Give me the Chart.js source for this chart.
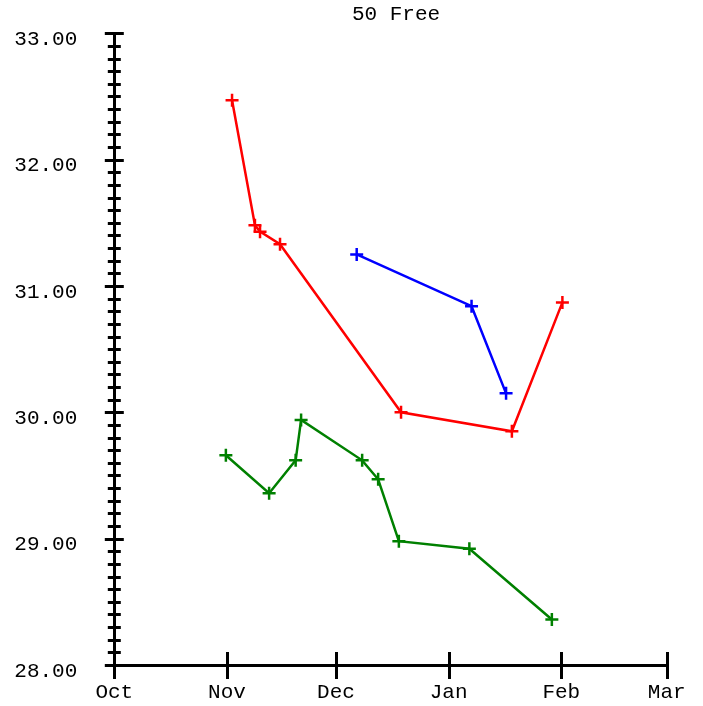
<!DOCTYPE html>
<html>
<head>
<meta charset="utf-8">
<script src="https://cdn.jsdelivr.net/npm/chart.js@4/dist/chart.umd.min.js"></script>
<style>
  html, body { margin: 0; padding: 0; background: #fff; }
  #wrap { width: 703px; height: 706px; position: relative; }
</style>
</head>
<body>
<div id="wrap"><canvas id="c"></canvas></div>
<script>
// Season days counted from Oct 1 (Feb with 29 days)
const monthLabels = ['Oct', 'Nov', 'Dec', 'Jan', 'Feb', 'Mar'];
const monthStartDays = [0, 31, 61, 92, 123, 152];

const yMin = 28, yMax = 33, yMinorStep = 0.1;

const redDays  = [32.4, 38.7, 40.1, 45.6, 78.9, 109.4, 123.3];
const redTimes = [32.47, 31.48, 31.43, 31.33, 30.00, 29.85, 30.87];

const blueDays  = [66.7, 98.3, 107.8];
const blueTimes = [31.25, 30.84, 30.15];

const greenDays  = [30.7, 42.6, 49.9, 51.4, 68.2, 72.6, 78.3, 97.7, 120.4];
const greenTimes = [29.66, 29.36, 29.62, 29.94, 29.62, 29.47, 28.98, 28.92, 28.36];

const pts = (xs, ys) => xs.map((x, i) => ({ x: x, y: ys[i] }));

const FONT = '"Liberation Mono", "DejaVu Sans Mono", monospace';

const tickMarks = {
  id: 'tickMarks',
  afterLayout(chart) {
    // the reference title sits slightly right of the plot centre
    if (chart.titleBlock) { chart.titleBlock.left += 5.5; chart.titleBlock.right += 5.5; }
  },
  afterDraw(chart) {
    const ctx = chart.ctx, xs = chart.scales.x, ys = chart.scales.y, ca = chart.chartArea;
    ctx.save();
    ctx.strokeStyle = '#000';
    ctx.lineWidth = 3;
    ctx.lineCap = 'butt';
    ys.ticks.forEach(t => {
      const y = Math.round(ys.getPixelForValue(t.value)) + 0.5;
      const major = Math.abs(t.value - Math.round(t.value)) < 1e-6;
      const h = major ? 9.5 : 6.5;
      ctx.beginPath();
      ctx.moveTo(ca.left - h, y);
      ctx.lineTo(ca.left + h, y);
      ctx.stroke();
    });
    xs.ticks.forEach(t => {
      const x = Math.round(xs.getPixelForValue(t.value)) + 0.5;
      ctx.beginPath();
      ctx.moveTo(x, ca.bottom - 13);
      ctx.lineTo(x, ca.bottom + 14);
      ctx.stroke();
    });
    ctx.restore();
  }
};

function mkSet(label, data, color) {
  return {
    label: label,
    data: data,
    borderColor: color,
    backgroundColor: color,
    borderWidth: 2.5,
    pointStyle: 'cross',
    pointRadius: 6.5,
    pointHoverRadius: 6.5,
    pointBorderWidth: 2.5,
    pointBorderColor: color,
    tension: 0,
    fill: false
  };
}

new Chart(document.getElementById('c'), {
  type: 'line',
  data: {
    datasets: [
      mkSet('Red', pts(redDays, redTimes), '#ff0000'),
      mkSet('Blue', pts(blueDays, blueTimes), '#0000ff'),
      mkSet('Green', pts(greenDays, greenTimes), '#008000')
    ]
  },
  options: {
    responsive: true,
    maintainAspectRatio: false,
    animation: false,
    events: [],
    layout: { padding: { left: 0, right: 36.3, top: 0, bottom: 0 } },
    plugins: {
      legend: { display: false },
      tooltip: { enabled: false },
      title: {
        display: true,
        text: '50 Free',
        fullSize: false,
        color: '#000',
        font: { family: FONT, size: 21, weight: 'normal', lineHeight: 1.2 },
        padding: { top: 2, bottom: 6.1 }
      }
    },
    scales: {
      x: {
        type: 'linear',
        min: monthStartDays[0],
        max: monthStartDays[monthStartDays.length - 1],
        afterBuildTicks: s => { s.ticks = monthStartDays.map(v => ({ value: v })); },
        afterFit: s => { s.height = 41; },
        grid: { display: true, drawOnChartArea: false, drawTicks: true, tickLength: 15, tickColor: 'rgba(0,0,0,0)' },
        border: { display: true, color: '#000', width: 3 },
        ticks: {
          autoSkip: false,
          maxRotation: 0,
          padding: 0,
          color: '#000',
          font: { family: FONT, size: 21, lineHeight: 1.2 },
          callback: (v, i) => monthLabels[i]
        }
      },
      y: {
        type: 'linear',
        min: yMin,
        max: yMax,
        afterBuildTicks: s => {
          const n = Math.round((yMax - yMin) / yMinorStep);
          const arr = [];
          for (let i = 0; i <= n; i++) arr.push({ value: +(yMin + i * yMinorStep).toFixed(1) });
          s.ticks = arr;
        },
        afterFit: s => { s.width = 114.3; },
        grid: { display: true, drawOnChartArea: false, drawTicks: true, tickLength: 37, tickColor: 'rgba(0,0,0,0)' },
        border: { display: true, color: '#000', width: 3 },
        ticks: {
          autoSkip: false,
          padding: 0,
          labelOffset: 6,
          color: '#000',
          font: { family: FONT, size: 21, lineHeight: 1.2 },
          callback: v => (Math.abs(v - Math.round(v)) < 1e-6 ? v.toFixed(2) : '')
        }
      }
    }
  },
  plugins: [tickMarks]
});
</script>
</body>
</html>
